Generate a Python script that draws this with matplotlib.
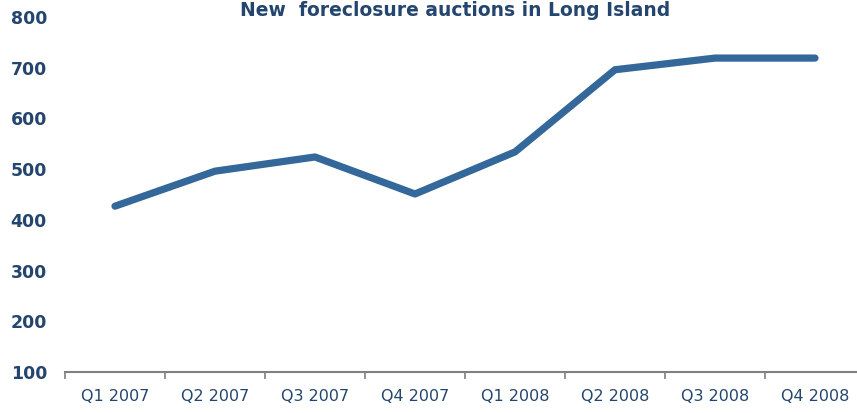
import numpy as np
import matplotlib.pyplot as plt

# Data
quarters = ["Q1 2007", "Q2 2007", "Q3 2007", "Q4 2007",
            "Q1 2008", "Q2 2008", "Q3 2008", "Q4 2008"]
auctions = [427, 496, 524, 451, 534, 696, 719, 719]
y_ticks = [100, 200, 300, 400, 500, 600, 700, 800]

text_col = "#24466e"
line_col = "#34679a"

W, H = 857, 413
fig = plt.figure(figsize=(W / 100, H / 100), dpi=100)
# axes: x 65 -> 865 px, y 100 at 372 px, 800 at 17 px
ax = fig.add_axes([65 / W, (H - 372) / H, 800 / W, (372 - 17) / H])

x = np.arange(len(quarters))
ax.plot(x, auctions, color=line_col, linewidth=5.2, solid_capstyle="round",
        solid_joinstyle="round")

ax.set_xlim(-0.5, len(quarters) - 0.5)
ax.set_ylim(100, 800)

ax.set_yticks(y_ticks)
ax.set_yticklabels([str(v) for v in y_ticks], fontsize=12.5, fontweight="bold",
                   color=text_col)
ax.tick_params(axis="y", length=0, pad=13)

ax.set_xticks(x)
ax.set_xticklabels(quarters, fontsize=11.5, color=text_col)
ax.set_xticks(np.arange(-0.5, len(quarters)), minor=True)
ax.tick_params(axis="x", which="major", length=0, pad=12)
ax.tick_params(axis="x", which="minor", length=5, width=1.2, color="#808080",
               direction="out")

for s in ["top", "right", "left"]:
    ax.spines[s].set_visible(False)
ax.spines["bottom"].set_color("#808080")
ax.spines["bottom"].set_linewidth(1.5)

# title right at the top edge
fig.text(455 / W, 1 - 1 / H, "New  foreclosure auctions in Long Island",
         ha="center", va="top", fontsize=13.5, fontweight="bold",
         color=text_col)

fig.savefig("out.png", dpi=100)
